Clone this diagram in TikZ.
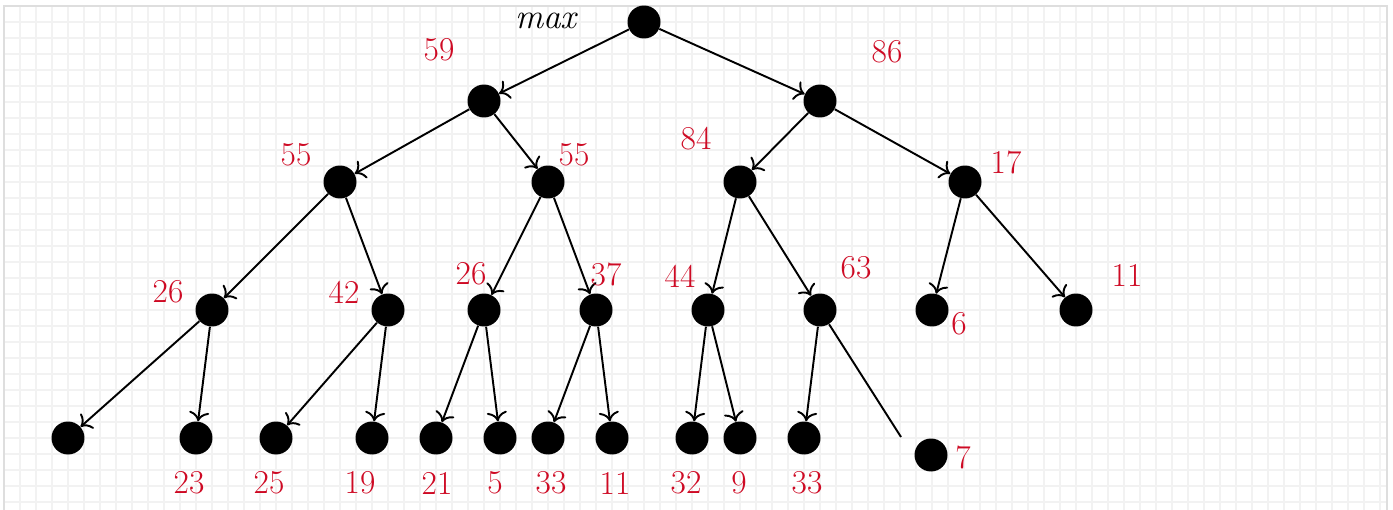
\documentclass[tikz,border=0pt]{standalone}
\usetikzlibrary{arrows.meta}
\definecolor{keyred}{RGB}{206,10,36}
\definecolor{gridgray}{RGB}{242,242,242}
\definecolor{framegray}{RGB}{222,222,222}
\begin{document}
\begin{tikzpicture}[x=0.02cm,y=-0.02cm,
  dot/.style={circle,fill=black,inner sep=0pt,minimum size=0.66cm},
  edge/.style={line width=1.1pt,-{To[scale=1.35]}},
  plain/.style={line width=1.1pt},
  key/.style={text=keyred,font=\fontsize{19}{22}\selectfont,inner sep=0pt},
  tag/.style={font=\fontsize{20}{24}\selectfont\itshape,inner sep=0pt},
  gridline/.style={draw=gridgray,line width=1.1pt},
]
\useasboundingbox (0,0) rectangle (1393,510);

% squared paper background
\foreach \gx in {20,36,...,1380} \draw[gridline] (\gx,6) -- (\gx,510);
\foreach \gy in {22,38,...,502} \draw[gridline] (4,\gy) -- (1388,\gy);
\draw[framegray,line width=0.8pt] (4,510) -- (4,6) -- (1387,6) -- (1387,510);

% tree nodes
\node[dot] (r) at (644,22) {};
\node[dot] (a) at (484,101) {};
\node[dot] (b) at (820,101) {};
\node[dot] (aa) at (340,182) {};
\node[dot] (ab) at (548,182) {};
\node[dot] (ba) at (740,182) {};
\node[dot] (bb) at (965,182) {};
\node[dot] (aaa) at (212,310) {};
\node[dot] (aab) at (388,310) {};
\node[dot] (aba) at (484,310) {};
\node[dot] (abb) at (596,310) {};
\node[dot] (baa) at (708,310) {};
\node[dot] (bab) at (820,310) {};
\node[dot] (bba) at (932,310) {};
\node[dot] (bbb) at (1076,310) {};
\node[dot] (l1) at (68,438) {};
\node[dot] (l2) at (196,438) {};
\node[dot] (l3) at (276,438) {};
\node[dot] (l4) at (372,438) {};
\node[dot] (l5) at (436,438) {};
\node[dot] (l6) at (500,438) {};
\node[dot] (l7) at (548,438) {};
\node[dot] (l8) at (612,438) {};
\node[dot] (l9) at (692,438) {};
\node[dot] (l10) at (740,438) {};
\node[dot] (l11) at (804,438) {};
\node[dot] (l12) at (931,455) {};
\coordinate (cut) at (901,437);

% connectors
\draw[edge] (r) -- (a);
\draw[edge] (r) -- (b);
\draw[edge] (a) -- (aa);
\draw[edge] (a) -- (ab);
\draw[edge] (b) -- (ba);
\draw[edge] (b) -- (bb);
\draw[edge] (aa) -- (aaa);
\draw[edge] (aa) -- (aab);
\draw[edge] (ab) -- (aba);
\draw[edge] (ab) -- (abb);
\draw[edge] (ba) -- (baa);
\draw[edge] (ba) -- (bab);
\draw[edge] (bb) -- (bba);
\draw[edge] (bb) -- (bbb);
\draw[edge] (aaa) -- (l1);
\draw[edge] (aaa) -- (l2);
\draw[edge] (aab) -- (l3);
\draw[edge] (aab) -- (l4);
\draw[edge] (aba) -- (l5);
\draw[edge] (aba) -- (l6);
\draw[edge] (abb) -- (l7);
\draw[edge] (abb) -- (l8);
\draw[edge] (baa) -- (l9);
\draw[edge] (baa) -- (l10);
\draw[edge] (bab) -- (l11);
\draw[plain] (bab) -- (cut);

% values
\node[tag] (tmax) at (546,21) {max};
\node[key] (k59) at (439,50) {59};
\node[key] (k86) at (887,52) {86};
\node[key] (k55a) at (296,155) {55};
\node[key] (k55b) at (574,155) {55};
\node[key] (k84) at (696,139) {84};
\node[key] (k17) at (1006,162) {17};
\node[key] (k26a) at (168,292) {26};
\node[key] (k42) at (344,292) {42};
\node[key] (k26b) at (471,274) {26};
\node[key] (k37) at (606,274) {37};
\node[key] (k44) at (680,276) {44};
\node[key] (k63) at (856,268) {63};
\node[key] (k6) at (959,324) {6};
\node[key] (k11a) at (1127,275) {11};
\node[key] (k23) at (189,483) {23};
\node[key] (k25) at (269,483) {25};
\node[key] (k19) at (360,483) {19};
\node[key] (k21) at (437,483) {21};
\node[key] (k5) at (495,483) {5};
\node[key] (k33a) at (551,483) {33};
\node[key] (k11b) at (615,483) {11};
\node[key] (k32) at (686,483) {32};
\node[key] (k9) at (739,483) {9};
\node[key] (k33b) at (807,483) {33};
\node[key] (k7) at (963,457) {7};
\end{tikzpicture}
\end{document}
